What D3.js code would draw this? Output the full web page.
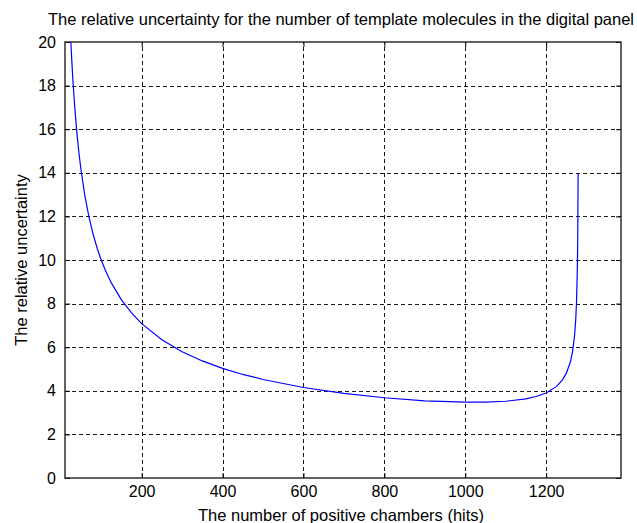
<!DOCTYPE html>
<html>
<head>
<meta charset="utf-8">
<script src="https://cdn.jsdelivr.net/npm/d3@7"></script>
<style>
  body { margin: 0; background: #fff; }
  text { font-family: "Liberation Sans", Arial, sans-serif; fill: #000; }
</style>
</head>
<body>
<svg id="canvas" width="637" height="523"></svg>
<script>
// chart data
var hits = [25, 27, 30, 35, 40, 45, 50, 60, 70, 80, 90, 100, 110, 125, 150, 175, 200, 250, 300, 350, 400, 450, 500, 600, 700, 800, 900, 1000, 1050, 1100, 1150, 1175, 1200, 1225, 1240, 1250, 1260, 1265, 1270, 1273, 1275, 1277, 1278, 1279];
var uncertainty = [20.0, 19.25, 18.26, 16.9, 15.81, 14.91, 14.14, 12.91, 11.95, 11.18, 10.54, 10.0, 9.54, 8.95, 8.17, 7.57, 7.08, 6.34, 5.79, 5.37, 5.03, 4.75, 4.52, 4.15, 3.88, 3.68, 3.54, 3.48, 3.48, 3.52, 3.63, 3.74, 3.9, 4.19, 4.49, 4.81, 5.33, 5.77, 6.49, 7.24, 8.05, 9.52, 10.93, 13.97];

var xTicks = [200, 400, 600, 800, 1000, 1200];
var yTicks = [0, 2, 4, 6, 8, 10, 12, 14, 16, 18, 20];
var xRange = [10.5, 1385];
var yRange = [0, 20];

var titleText = 'The relative uncertainty for the number of template molecules in the digital panel';
var xLabel = 'The number of positive chambers (hits)';
var yLabel = 'The relative uncertainty';

// ************************************************************************************************** //
// Setup

var plot = { left: 65, top: 42, right: 621, bottom: 478 };
var svg = d3.select('#canvas');

var xScale = d3.scaleLinear().domain(xRange).range([plot.left, plot.right]);
var yScale = d3.scaleLinear().domain(yRange).range([plot.bottom, plot.top]);

// ************************************************************************************************** //
// Grid

var grid = svg.append('g').attr('stroke', '#1a1a1a').attr('stroke-width', 1).attr('stroke-dasharray', '4,3');
grid.selectAll('.gx').data(xTicks).enter().append('line')
  .attr('x1', d => Math.round(xScale(d)) + 0.5).attr('x2', d => Math.round(xScale(d)) + 0.5)
  .attr('y1', plot.bottom).attr('y2', plot.top);
grid.selectAll('.gy').data(yTicks.slice(1, -1)).enter().append('line')
  .attr('y1', d => Math.round(yScale(d)) + 0.5).attr('y2', d => Math.round(yScale(d)) + 0.5)
  .attr('x1', plot.left).attr('x2', plot.right);

// ************************************************************************************************** //
// Curve

var line = d3.line().x((d, i) => xScale(hits[i])).y(d => yScale(d));
svg.append('path').datum(uncertainty)
  .attr('d', line)
  .attr('fill', 'none').attr('stroke', '#0000ff').attr('stroke-width', 1.2);

// ************************************************************************************************** //
// Axes (inner ticks on all four sides, like matlab)

function styleAxis(g){
  g.select('.domain').remove();
  g.selectAll('.tick line').attr('stroke', '#000');
  g.selectAll('.tick text').style('font-size', '16px');
}

svg.append('g').attr('transform', 'translate(0,' + plot.bottom + ')')
  .call(d3.axisBottom(xScale).tickValues(xTicks).tickSize(-5).tickPadding(8).tickFormat(d3.format('d')))
  .call(styleAxis);
svg.append('g').attr('transform', 'translate(0,' + plot.top + ')')
  .call(d3.axisTop(xScale).tickValues(xTicks).tickSize(-5).tickFormat(''))
  .call(styleAxis);
svg.append('g').attr('transform', 'translate(' + plot.left + ',0)')
  .call(d3.axisLeft(yScale).tickValues(yTicks).tickSize(-5).tickPadding(9).tickFormat(d3.format('d')))
  .call(styleAxis);
svg.append('g').attr('transform', 'translate(' + plot.right + ',0)')
  .call(d3.axisRight(yScale).tickValues(yTicks).tickSize(-5).tickFormat(''))
  .call(styleAxis);

svg.append('rect')
  .attr('x', plot.left).attr('y', plot.top)
  .attr('width', plot.right - plot.left).attr('height', plot.bottom - plot.top)
  .attr('fill', 'none').attr('stroke', '#222').attr('stroke-width', 1.4);

// ************************************************************************************************** //
// Labels

svg.append('text').attr('x', (plot.left + plot.right) / 2 - 2).attr('y', 25)
  .attr('text-anchor', 'middle').style('font-size', '16.5px').text(titleText);
svg.append('text').attr('x', (plot.left + plot.right) / 2 - 2).attr('y', 521)
  .attr('text-anchor', 'middle').style('font-size', '16.5px').text(xLabel);
svg.append('text').attr('transform', 'translate(27,' + (plot.top + plot.bottom) / 2 + ') rotate(-90)')
  .attr('text-anchor', 'middle').style('font-size', '16.5px').text(yLabel);
</script>
</body>
</html>
